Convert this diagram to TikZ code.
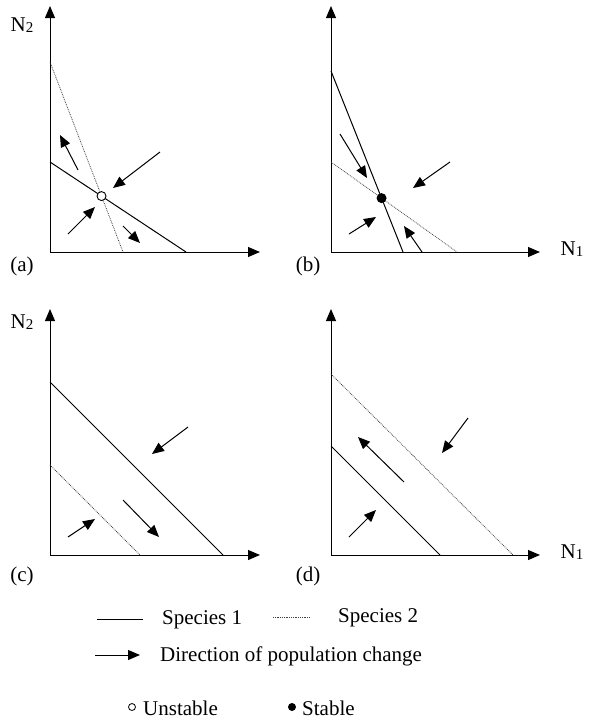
\documentclass[tikz,border=0pt]{standalone}
\usepackage{fontspec}
\setmainfont{Liberation Serif}
\usetikzlibrary{arrows.meta}
\newcommand{\Nlab}[1]{N{\fontsize{15}{15}\selectfont\raisebox{-1pt}{#1}}}
\begin{document}
\begin{tikzpicture}[x=1pt,y=-1pt,
  axis/.style={line width=1pt,-{Triangle[length=12pt,width=10pt]}},
  spone/.style={line width=1pt},
  sptwo/.style={line width=0.8pt, densely dotted, black!75},
  dir/.style={line width=1pt,-{Triangle[length=12pt,width=10pt]}},
  lbl/.style={font=\fontsize{21}{25}\selectfont, inner sep=0pt},
  unst/.style={circle, draw, fill=white, line width=0.9pt, inner sep=0pt, minimum size=9pt},
  stab/.style={circle, fill=black, inner sep=0pt, minimum size=10pt},
]
\useasboundingbox (0,0) rectangle (594,724);

% ---------- panel (a)
\coordinate (oa) at (50,252);
\coordinate (ya) at (50,6);
\coordinate (xa) at (260,252);
\draw[axis] (oa) -- (ya);
\draw[axis] (oa) -- (xa);
\coordinate (a1s) at (50,162); \coordinate (a1e) at (186,252);
\coordinate (a2s) at (50,62);  \coordinate (a2e) at (123,252);
\draw[sptwo] (a2s) -- (a2e);
\draw[spone] (a1s) -- (a1e);
\node[unst] (ua) at (intersection of a1s--a1e and a2s--a2e) {};
\coordinate (aA1) at (78,170);  \coordinate (aB1) at (60,135);
\coordinate (aA2) at (160,152); \coordinate (aB2) at (113,188);
\coordinate (aA3) at (68,234);  \coordinate (aB3) at (95,207);
\coordinate (aA4) at (123,226); \coordinate (aB4) at (140,243);
\draw[dir] (aA1) -- (aB1);
\draw[dir] (aA2) -- (aB2);
\draw[dir] (aA3) -- (aB3);
\draw[dir] (aA4) -- (aB4);
\node[lbl] (na2) at (22,25) {\Nlab{2}};
\node[lbl] (la) at (22,266) {(a)};

% ---------- panel (b)
\coordinate (ob) at (331,252);
\coordinate (yb) at (331,6);
\coordinate (xb) at (540,252);
\draw[axis] (ob) -- (yb);
\draw[axis] (ob) -- (xb);
\coordinate (b1s) at (331,71);  \coordinate (b1e) at (403,252);
\coordinate (b2s) at (331,162); \coordinate (b2e) at (457,252);
\draw[sptwo] (b2s) -- (b2e);
\draw[spone] (b1s) -- (b1e);
\node[stab] (sb) at (intersection of b1s--b1e and b2s--b2e) {};
\coordinate (bA1) at (340,134); \coordinate (bB1) at (367,178);
\coordinate (bA2) at (450,162); \coordinate (bB2) at (413,188);
\coordinate (bA3) at (349,234); \coordinate (bB3) at (376,217);
\coordinate (bA4) at (422,252); \coordinate (bB4) at (404,226);
\draw[dir] (bA1) -- (bB1);
\draw[dir] (bA2) -- (bB2);
\draw[dir] (bA3) -- (bB3);
\draw[dir] (bA4) -- (bB4);
\node[lbl] (nb1) at (572,249) {\Nlab{1}};
\node[lbl] (lb) at (308,266) {(b)};

% ---------- panel (c)
\coordinate (oc) at (50,555);
\coordinate (yc) at (50,309);
\coordinate (xc) at (260,555);
\draw[axis] (oc) -- (yc);
\draw[axis] (oc) -- (xc);
\coordinate (c1s) at (50,382); \coordinate (c1e) at (223,555);
\coordinate (c2s) at (50,465); \coordinate (c2e) at (140,555);
\draw[sptwo] (c2s) -- (c2e);
\draw[spone] (c1s) -- (c1e);
\coordinate (cA1) at (188,427); \coordinate (cB1) at (152,454);
\coordinate (cA2) at (123,500); \coordinate (cB2) at (159,537);
\coordinate (cA3) at (68,537);  \coordinate (cB3) at (95,519);
\draw[dir] (cA1) -- (cB1);
\draw[dir] (cA2) -- (cB2);
\draw[dir] (cA3) -- (cB3);
\node[lbl] (nc2) at (22,322) {\Nlab{2}};
\node[lbl] (lc) at (22,576) {(c)};

% ---------- panel (d)
\coordinate (od) at (331,555);
\coordinate (yd) at (331,309);
\coordinate (xd) at (540,555);
\draw[axis] (od) -- (yd);
\draw[axis] (od) -- (xd);
\coordinate (d2s) at (331,374); \coordinate (d2e) at (513,555);
\coordinate (d1s) at (331,446); \coordinate (d1e) at (440,555);
\draw[sptwo] (d2s) -- (d2e);
\draw[spone] (d1s) -- (d1e);
\coordinate (dA1) at (468,418); \coordinate (dB1) at (442,453);
\coordinate (dA2) at (404,482); \coordinate (dB2) at (358,437);
\coordinate (dA3) at (349,537); \coordinate (dB3) at (376,510);
\draw[dir] (dA1) -- (dB1);
\draw[dir] (dA2) -- (dB2);
\draw[dir] (dA3) -- (dB3);
\node[lbl] (nd1) at (572,552) {\Nlab{1}};
\node[lbl] (ld) at (308,576) {(d)};

% ---------- legend
\coordinate (g1s) at (97,619);  \coordinate (g1e) at (143,619);
\coordinate (g2s) at (273,617); \coordinate (g2e) at (310,617);
\draw[spone] (g1s) -- (g1e);
\draw[sptwo] (g2s) -- (g2e);
\node[lbl, anchor=west] (t1) at (162,620) {Species 1};
\node[lbl, anchor=west] (t2) at (338,618) {Species 2};
\coordinate (g3s) at (95,655); \coordinate (g3e) at (140,655);
\draw[dir] (g3s) -- (g3e);
\node[lbl, anchor=west] (t3) at (160,656) {Direction of population change};
\node[circle, draw, line width=0.8pt, inner sep=0pt, minimum size=7pt] (gu) at (132,707) {};
\node[lbl, anchor=west] (t4) at (143,708) {Unstable};
\node[circle, fill=black, inner sep=0pt, minimum size=8pt] (gs) at (292,707) {};
\node[lbl, anchor=west] (t5) at (302,708) {Stable};
\end{tikzpicture}
\end{document}
